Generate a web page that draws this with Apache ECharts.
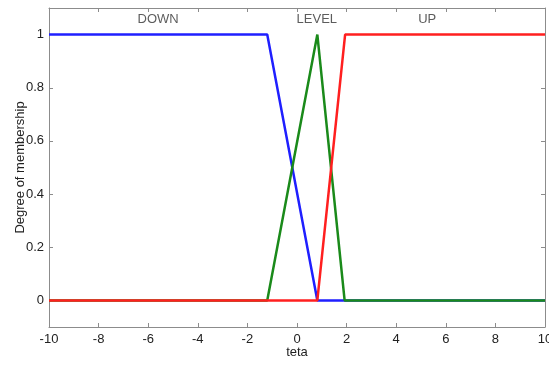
<!DOCTYPE html>
<html><head><meta charset="utf-8">
<script src="https://cdn.jsdelivr.net/npm/echarts@6/dist/echarts.min.js"></script>
<style>html,body{margin:0;padding:0;background:#fff}#c{width:549px;height:365px}</style>
</head><body><div id="c"></div>
<script>
const xTicks = [-10,-8,-6,-4,-2,0,2,4,6,8,10];
const yTicks = [0,0.2,0.4,0.6,0.8,1];
const downX = [-10, -1.2, 0.82, 10];
const downY = [1, 1, 0, 0];
const levelX = [-10, -1.2, 0.82, 1.92, 10];
const levelY = [0, 0, 1, 0, 0];
const upX = [-10, 0.82, 1.94, 10];
const upY = [0, 0, 1, 1];
const labelNames = ['DOWN', 'LEVEL', 'UP'];
const labelX = [-5.6, 0.8, 5.25];
const labelY = [1.057, 1.057, 1.057];

const pairs = (xs, ys) => xs.map((x, i) => [x, ys[i]]);
const font = 'Liberation Sans, Arial, sans-serif';
const axisCol = '#8c8c8c';
const chart = echarts.init(document.getElementById('c'), null, {renderer: 'canvas'});
const common = {
  axisLine: {show: true, onZero: false, lineStyle: {color: axisCol, width: 1}},
  axisTick: {show: true, inside: true, length: 4, lineStyle: {color: axisCol}},
  splitLine: {show: false}
};
chart.setOption({
  animation: false,
  grid: {left: 49, right: 4, top: 8, bottom: 38, containLabel: false, outerBoundsMode: 'none'},
  xAxis: [
    Object.assign({type: 'value', min: -10, max: 10, interval: 2, position: 'bottom',
      name: 'teta', nameLocation: 'middle', nameGap: 19, nameMoveOverlap: false,
      nameTextStyle: {fontFamily: font, fontSize: 13, color: '#222'},
      axisLabel: {fontFamily: font, fontSize: 13, color: '#222', margin: 6,
        formatter: v => xTicks.includes(v) ? String(v) : ''}}, common),
    Object.assign({type: 'value', min: -10, max: 10, interval: 2, position: 'top',
      axisLabel: {show: false}}, common)
  ],
  yAxis: [
    Object.assign({type: 'value', min: -0.1, max: 1.1, position: 'left',
      name: 'Degree of membership', nameLocation: 'middle', nameGap: 22, nameRotate: 90, nameMoveOverlap: false,
      nameTextStyle: {fontFamily: font, fontSize: 13, color: '#222'},
      axisLabel: {fontFamily: font, fontSize: 13, color: '#222', margin: 5,
        customValues: yTicks, formatter: v => String(Math.round(v*10)/10)},
      axisTick: {show: true, inside: true, length: 4, lineStyle: {color: axisCol}, customValues: yTicks}
    }, {axisLine: common.axisLine, splitLine: common.splitLine}),
    Object.assign({type: 'value', min: -0.1, max: 1.1, position: 'right',
      axisLabel: {show: false},
      axisTick: {show: true, inside: true, length: 4, lineStyle: {color: axisCol}, customValues: yTicks}
    }, {axisLine: common.axisLine, splitLine: common.splitLine})
  ],
  series: [
    {type: 'line', data: pairs(downX, downY), showSymbol: false, lineStyle: {color: '#1f1fff', width: 2.5}, itemStyle: {color: '#1f1fff'}},
    {type: 'line', data: pairs(levelX, levelY), showSymbol: false, lineStyle: {color: '#1a8a1a', width: 2.5}, itemStyle: {color: '#1a8a1a'}},
    {type: 'line', data: pairs(upX, upY), showSymbol: false, lineStyle: {color: '#ff1f1f', width: 2.5}, itemStyle: {color: '#ff1f1f'}},
    {type: 'scatter', symbolSize: 0, silent: true,
      data: labelNames.map((n, i) => ({name: n, value: [labelX[i], labelY[i]]})),
      label: {show: true, position: 'inside', formatter: p => p.name, fontFamily: font, fontSize: 13, color: '#333'}}
  ]
});
</script></body></html>
